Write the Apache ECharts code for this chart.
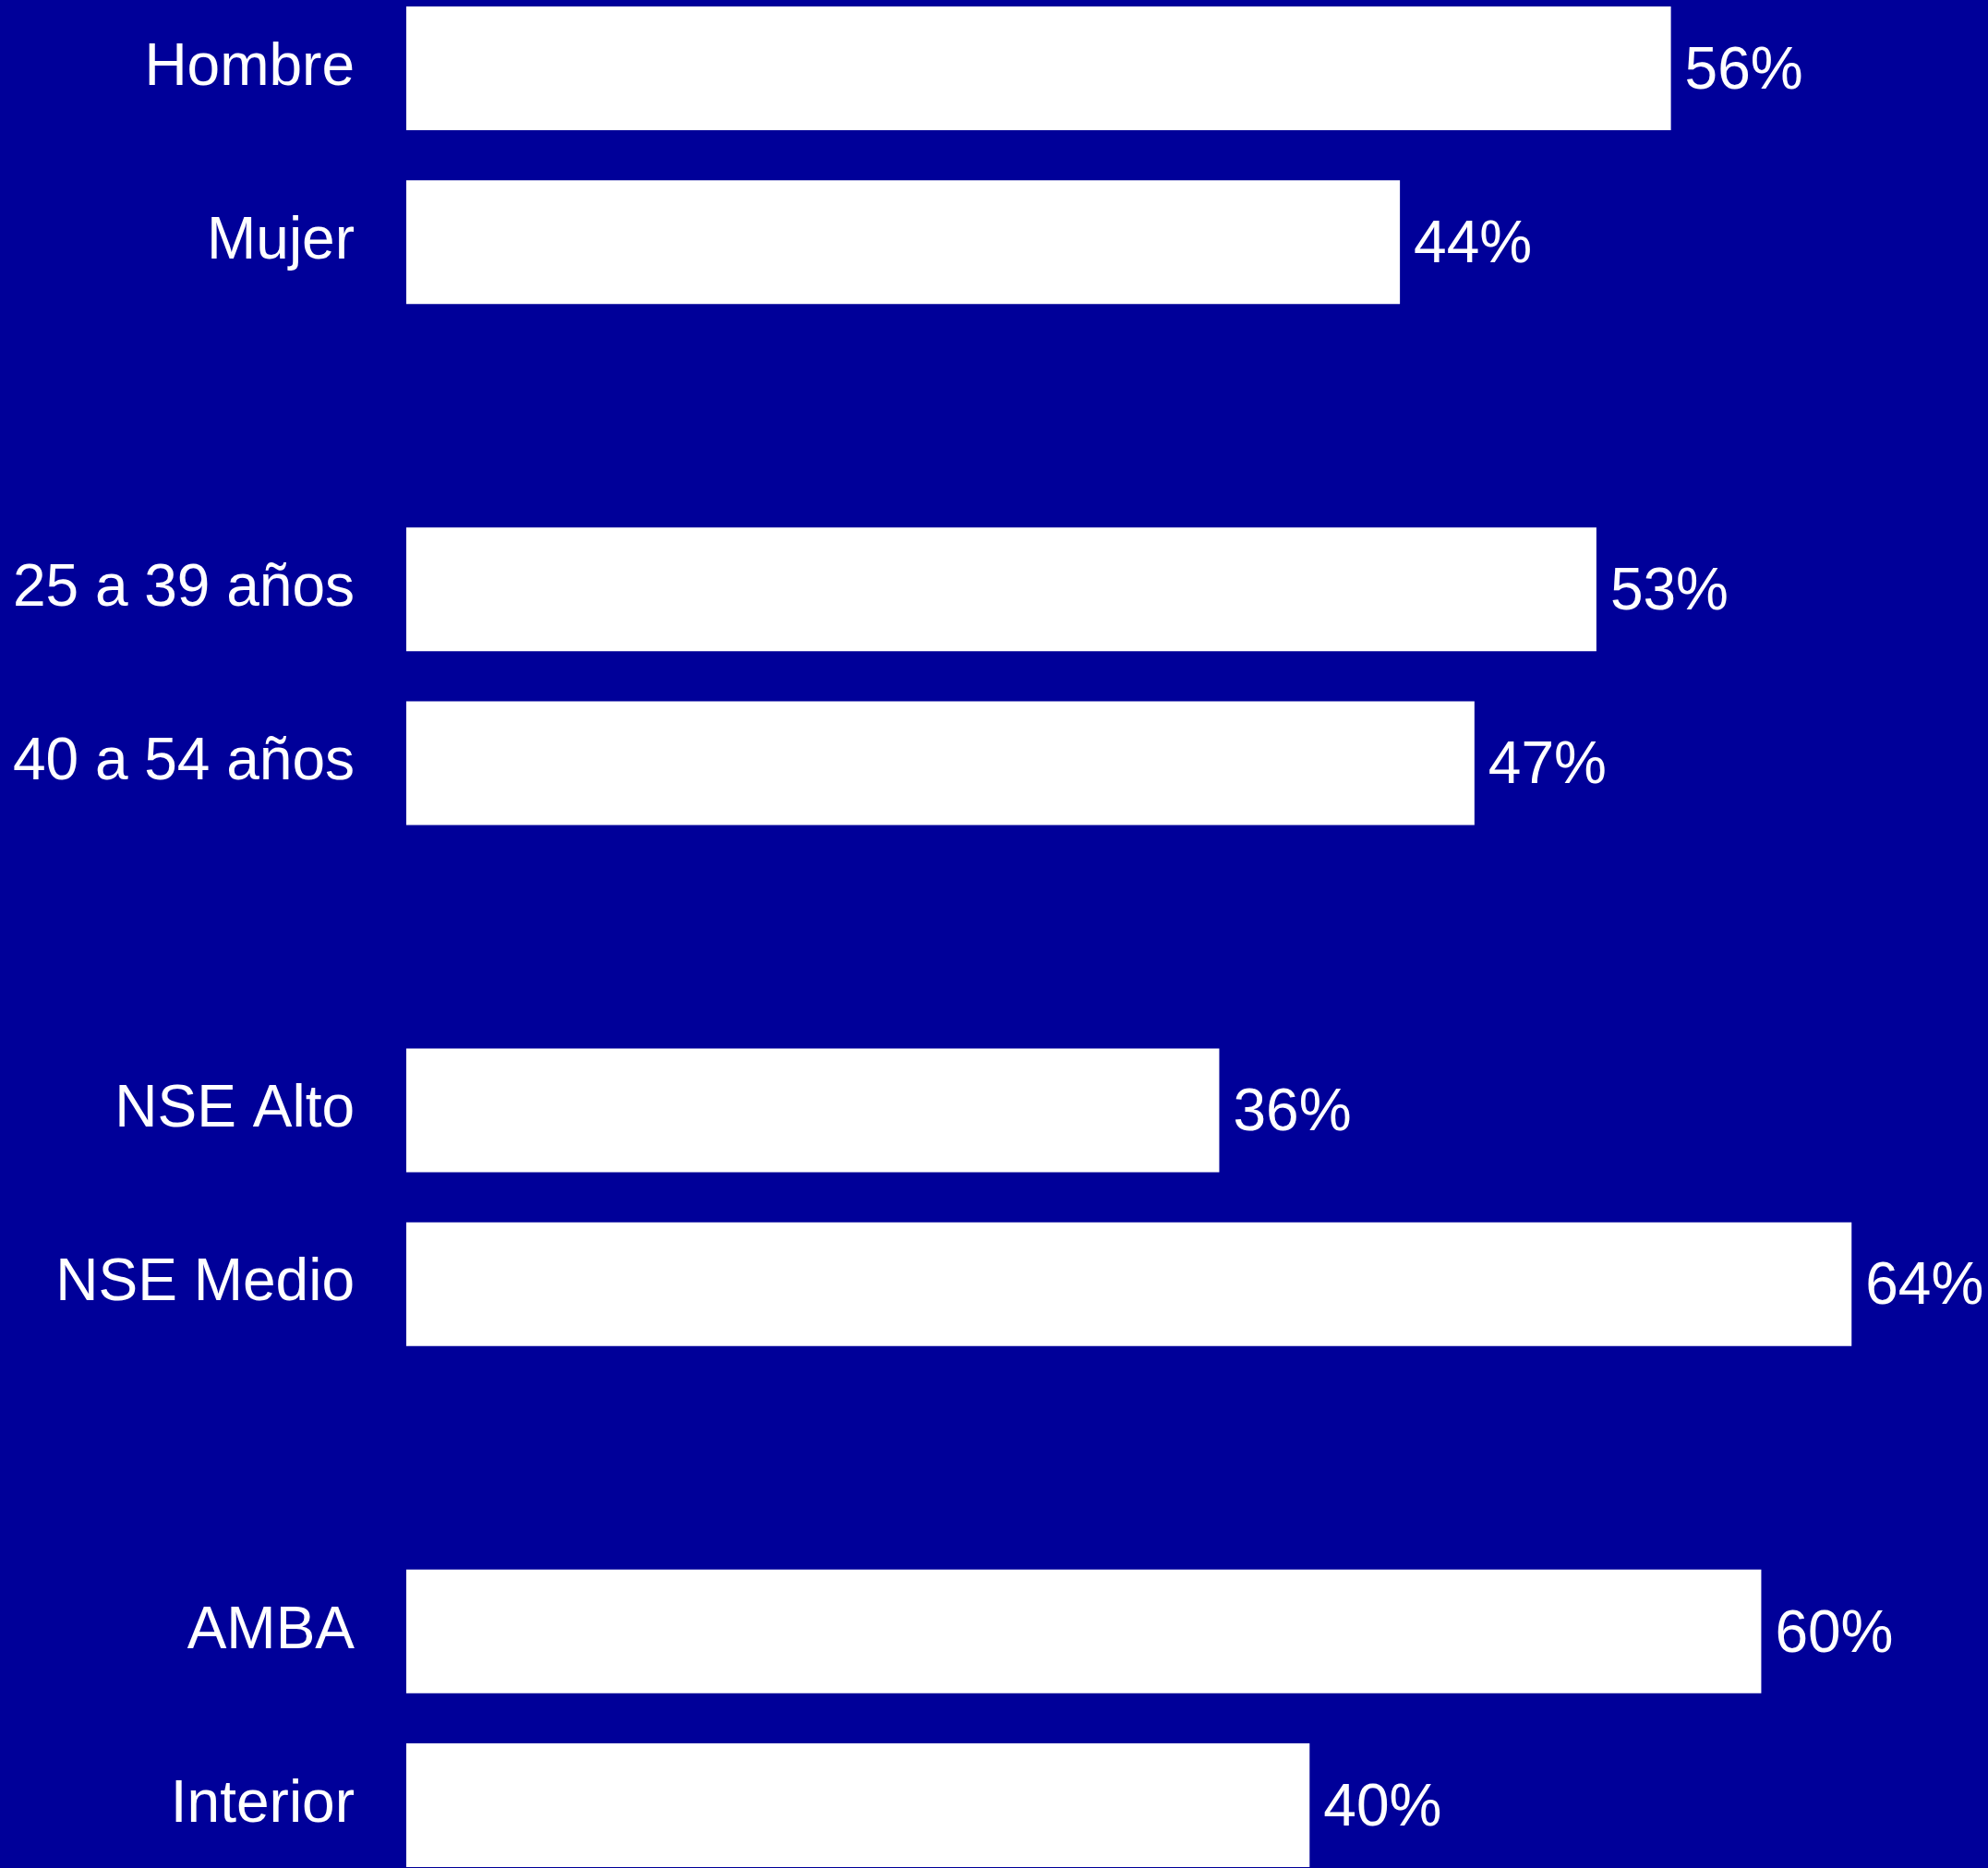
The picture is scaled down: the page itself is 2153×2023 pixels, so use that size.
<!DOCTYPE html>
<html>
<head>
<meta charset="utf-8">
<title>Perfil</title>
<script src="https://cdn.jsdelivr.net/npm/echarts@6/dist/echarts.min.js"></script>
<style>
    html, body { margin: 0; padding: 0; background: #000099; overflow: hidden; }
    /* el grafico empieza un poco por encima de la ventana, como en el original */
    #main { position: absolute; left: 0; top: -20px; width: 2153px; height: 2069px; }
</style>
</head>
<body>
<div id="main"></div>
<script type="text/javascript">
    // categorias (los espacios separan los grupos)
    var categorias = ['Hombre', 'Mujer', ' ', '25 a 39 años', '40 a 54 años', '  ', 'NSE Alto', 'NSE Medio', '   ', 'AMBA', 'Interior'];
    var valores = [56, 44, null, 52.7, 47.3, null, 36, 64, null, 60, 40];

    var myChart = echarts.init(document.getElementById('main'));

    myChart.setOption({
        backgroundColor: '#000099',
        animation: false,
        textStyle: { fontFamily: '"Liberation Sans", Arial, sans-serif' },
        grid: {
            left: 440,
            top: 0,
            width: 1712,
            height: 2069
        },
        xAxis: {
            type: 'value',
            min: 0,
            max: 70,
            show: false
        },
        yAxis: {
            type: 'category',
            inverse: true,
            data: categorias,
            axisLine: { show: false },
            axisTick: { show: false },
            axisLabel: {
                color: '#ffffff',
                fontSize: 64,
                margin: 56,
                padding: [6, 0, 0, 0],
                fontFamily: '"Liberation Sans", Arial, sans-serif'
            }
        },
        series: [
            {
                type: 'bar',
                barWidth: 134,
                data: valores,
                itemStyle: { color: '#ffffff' },
                label: {
                    show: true,
                    position: 'right',
                    distance: 15,
                    offset: [0, 4],
                    color: '#ffffff',
                    fontSize: 64,
                    fontFamily: '"Liberation Sans", Arial, sans-serif',
                    formatter: function (p) {
                        return Math.round(p.value) + '%';
                    }
                }
            }
        ]
    });
</script>
</body>
</html>
